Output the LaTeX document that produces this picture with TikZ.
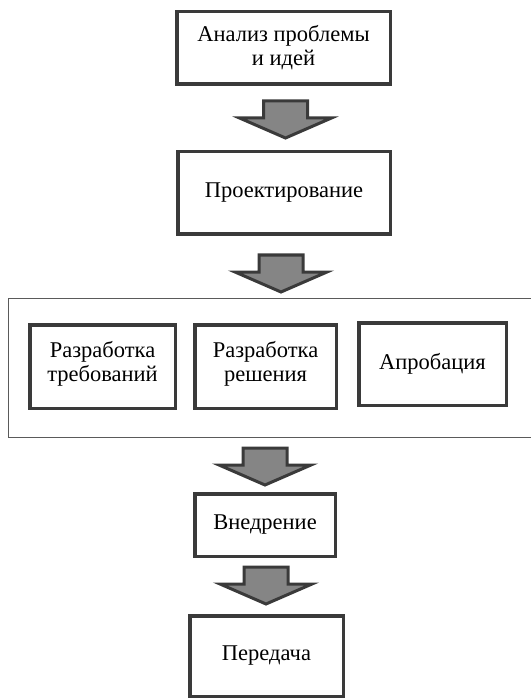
\documentclass[tikz,border=0pt]{standalone}
\usepackage{fontspec}
\setmainfont{Liberation Serif}
\usepackage{tikz}
\usetikzlibrary{calc}
\definecolor{boxline}{HTML}{3A3A3A}
\definecolor{arrowfill}{HTML}{858585}
\definecolor{frameline}{HTML}{5A5A5A}

\begin{document}
\begin{tikzpicture}[x=1pt, y=-1pt,
    stage/.style={draw=boxline, line width=3.5pt, fill=white, align=center,
                  font=\fontsize{22.5}{24}\selectfont, inner sep=0pt},
    fatarrow/.pic={
        \draw[draw=boxline, line width=3pt, fill=arrowfill, line join=miter]
            (-22,0) -- (22,0) -- (22,17) -- (46,17) -- (0,37)
            -- (-46,17) -- (-22,17) -- cycle;
    }]
    \useasboundingbox (0,0) rectangle (530,700);
    % stage boxes
    \node[stage, minimum width=213.5pt, minimum height=72.5pt] (analiz) at (283.5,48)
        {Анализ проблемы\\и идей};
    \node[stage, minimum width=212.5pt, minimum height=82.5pt] (proekt) at (284,193)
        {Проектирование};
    \draw[frameline, line width=1pt] (8,298) -- (535,298) (8,298) -- (8,437) -- (535,437);
    \node[stage, minimum width=145.5pt, minimum height=83.5pt, text depth=10pt] (trebov) at (102.5,366.5)
        {Разработка\\требований};
    \node[stage, minimum width=141.5pt, minimum height=83.5pt, text depth=10pt] (reshen) at (265.5,366.5)
        {Разработка\\решения};
    \node[stage, minimum width=147.5pt, minimum height=82.5pt] (aprob) at (432.5,364)
        {Апробация};
    \node[stage, minimum width=140.5pt, minimum height=62.5pt] (vnedr) at (265,525)
        {Внедрение};
    \node[stage, minimum width=153.5pt, minimum height=80.5pt] (pered) at (266.5,656)
        {Передача};
    % block arrows
    \coordinate (a1) at (285.5,101);
    \coordinate (a2) at (281,255);
    \coordinate (a3) at (265,448);
    \coordinate (a4) at (266,567);
    \foreach \p in {a1,a2,a3,a4}
        \pic at (\p) {fatarrow};
\end{tikzpicture}
\end{document}
